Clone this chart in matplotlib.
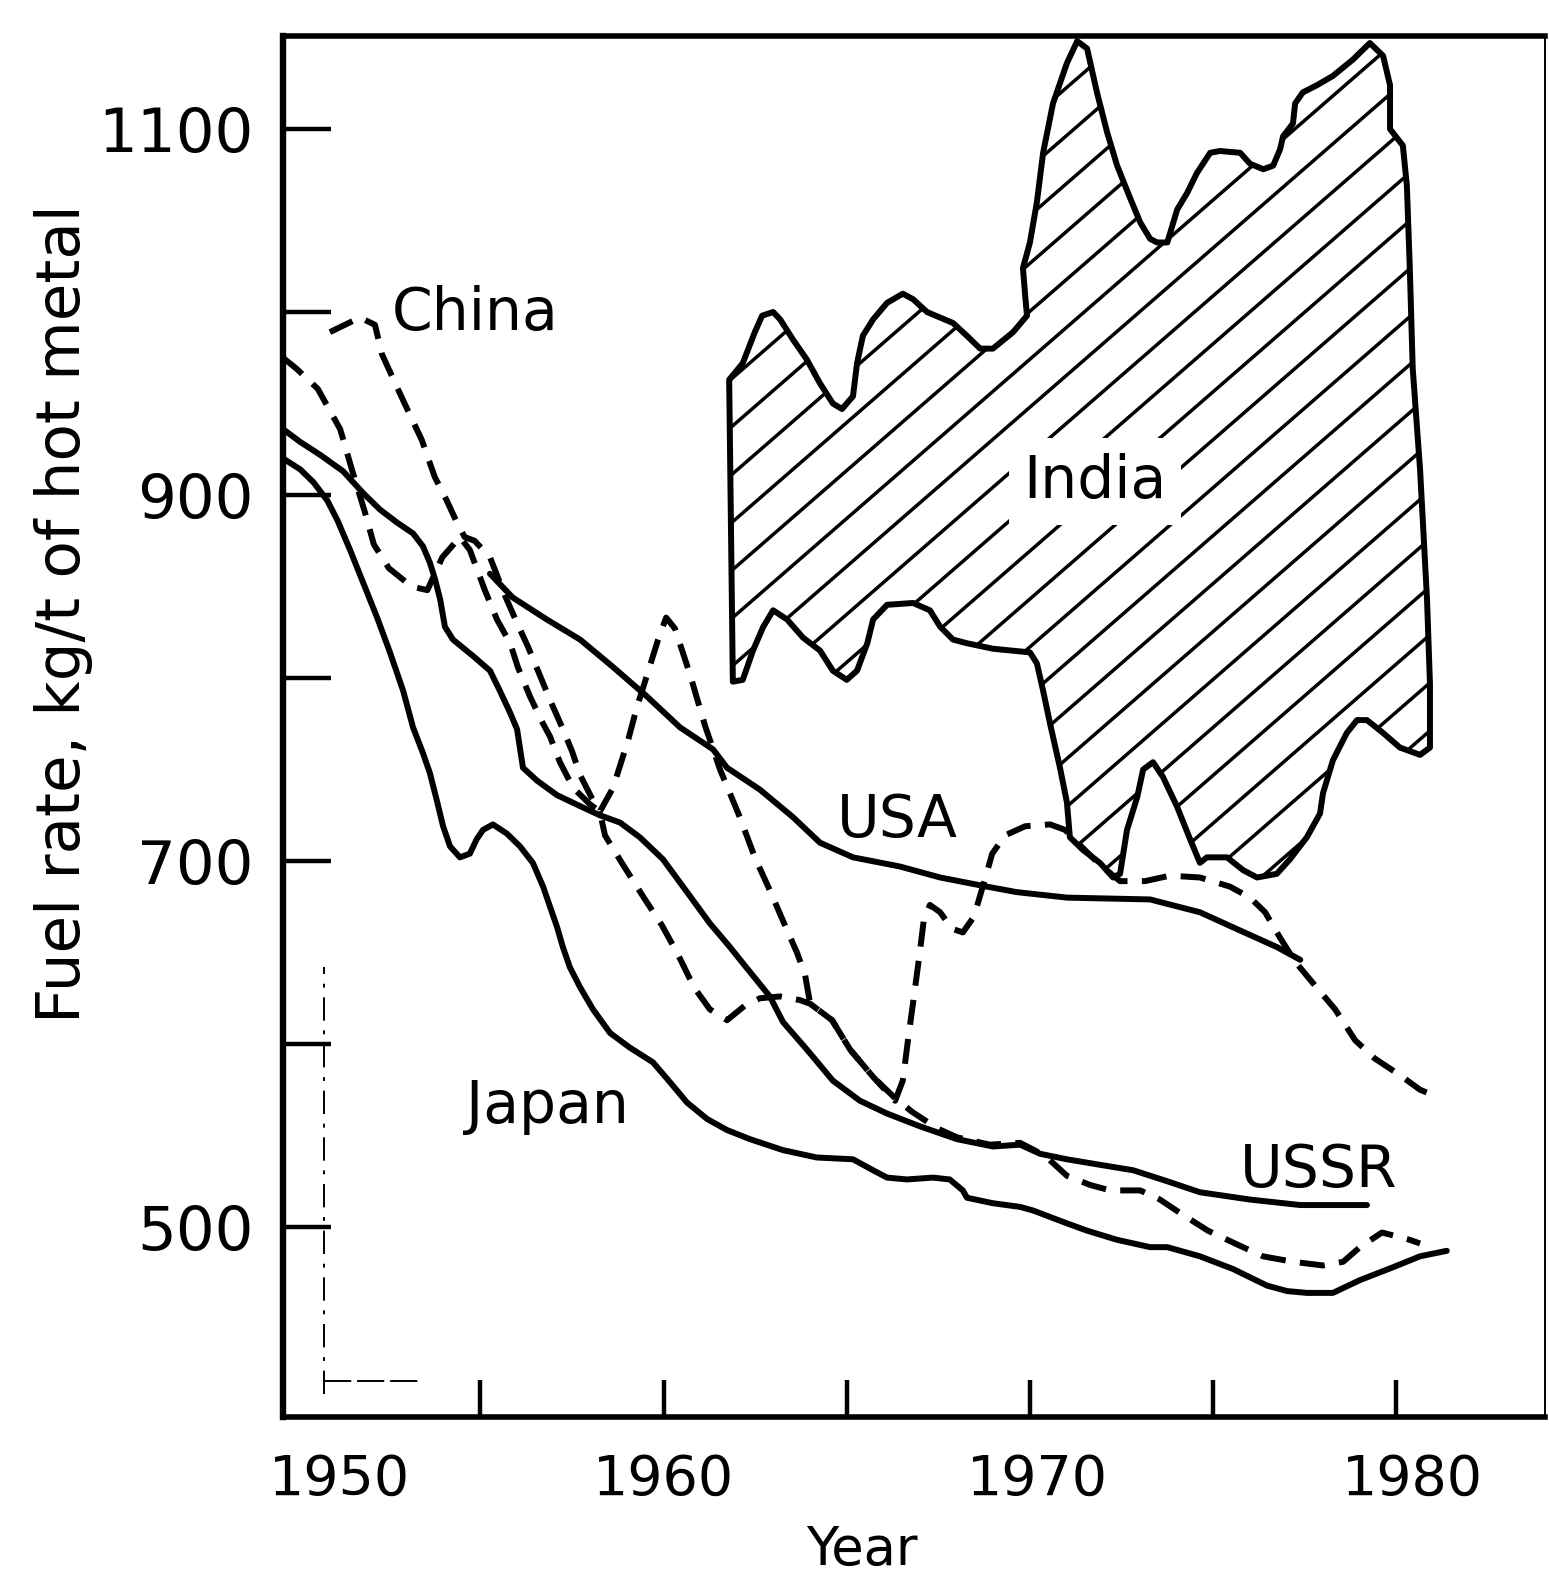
import numpy as np
import matplotlib.pyplot as plt
from matplotlib.patches import Polygon
from matplotlib.transforms import ScaledTranslation

# values (year, kg/t of hot metal)
japan_year = [1949.61, 1950.08, 1950.44, 1950.82, 1951.10, 1951.44, 1951.80, 1952.18, 1952.53, 1952.89,
              1953.16, 1953.43, 1953.62, 1953.81, 1953.98, 1954.17, 1954.44, 1954.71, 1954.90, 1955.07,
              1955.34, 1955.72, 1956.08, 1956.43, 1956.71, 1956.90, 1957.09, 1957.25, 1957.44, 1957.72,
              1958.07, 1958.54, 1959.08, 1959.71, 1960.18, 1960.64, 1961.19, 1961.73, 1962.36, 1963.26,
              1964.18, 1965.17, 1965.72, 1966.10, 1966.64, 1967.35, 1967.81, 1968.17, 1968.28, 1968.99,
              1969.73, 1970.09, 1971.01, 1971.56, 1972.38, 1973.28, 1973.75, 1974.64, 1975.55, 1976.47,
              1977.02, 1977.56, 1978.27, 1979.01, 1979.91, 1980.65, 1981.38]
japan_rate = [920, 914, 907, 897, 886, 870, 852, 833, 814, 793,
              773, 759, 748, 733, 719, 708, 702, 704, 712, 717,
              720, 715, 708, 699, 686, 675, 664, 653, 642, 631,
              619, 606, 598, 590, 579, 568, 559, 553, 548, 542,
              538, 537, 531, 527, 526, 527, 526, 520, 516, 513,
              511, 509, 502, 498, 493, 489, 489, 484, 477, 468,
              465, 464, 464, 471, 478, 484, 487]

ussr_year = [1949.61, 1950.08, 1950.62, 1951.25, 1951.80, 1952.26, 1952.72, 1953.16, 1953.43, 1953.62,
             1953.76, 1953.90, 1954.03, 1954.25, 1954.80, 1955.26, 1955.53, 1955.81, 1956.00, 1956.16,
             1956.54, 1957.09, 1957.72, 1958.26, 1958.81, 1959.35, 1959.98, 1960.64, 1961.26, 1961.81,
             1962.17, 1962.90, 1963.26, 1963.91, 1964.62, 1965.36, 1966.10, 1967.00, 1968.01, 1968.99,
             1969.73, 1970.28, 1971.01, 1971.91, 1972.82, 1973.75, 1974.64, 1976.01, 1977.38, 1979.20]
ussr_rate = [936, 929, 922, 913, 901, 892, 885, 879, 872, 863,
             854, 843, 828, 821, 812, 804, 793, 781, 772, 751,
             744, 736, 730, 725, 721, 713, 701, 683, 666, 653,
             644, 626, 612, 597, 580, 569, 562, 555, 548, 544,
             545, 540, 537, 534, 531, 525, 519, 515, 512, 512]

usa_year = [1955.26, 1955.88, 1956.81, 1957.72, 1958.62, 1959.54, 1960.45, 1961.35, 1961.73, 1962.63,
            1963.53, 1964.27, 1965.17, 1966.45, 1967.55, 1968.83, 1969.64, 1971.01, 1973.28, 1974.64,
            1975.74, 1976.74, 1977.38]
usa_rate = [857, 844, 832, 821, 806, 790, 773, 761, 751, 739,
            724, 710, 702, 697, 691, 686, 683, 680, 679, 672,
            662, 653, 646]

china_year = [1950.89, 1951.30, 1951.71, 1952.12, 1952.31, 1952.72, 1953.07, 1953.40, 1953.75, 1954.08,
              1954.38, 1954.57, 1954.84, 1955.26, 1955.67, 1956.00, 1956.30, 1956.57, 1956.90, 1957.23,
              1957.50, 1957.72, 1958.05, 1958.26, 1958.62, 1959.03, 1959.27, 1959.57, 1959.85, 1960.07,
              1960.31, 1960.72, 1961.13, 1961.54, 1962.08, 1962.49, 1962.90, 1963.31, 1963.64, 1963.86,
              1964.00, 1964.60, 1965.09, 1965.72, 1966.32, 1966.53, 1966.67, 1966.84, 1967.00, 1967.11,
              1967.27, 1967.55, 1967.87, 1968.17, 1968.45, 1968.58, 1968.77, 1968.97, 1969.32, 1969.87,
              1970.55, 1970.96, 1971.50, 1971.91, 1972.46, 1973.14, 1973.82, 1974.64, 1975.46, 1976.01,
              1976.42, 1976.83, 1977.24, 1977.78, 1978.33, 1978.88, 1979.42, 1980.10, 1980.65, 1981.14]
china_rate = [989, 993, 997, 993, 977, 959, 944, 930, 910, 897,
              884, 877, 875, 866, 845, 830, 817, 804, 788, 773,
              760, 747, 734, 727, 740, 766, 784, 803, 821, 833,
              827, 802, 774, 750, 724, 702, 684, 665, 650, 638,
              622, 613, 597, 582, 569, 580, 602, 627, 651, 669,
              676, 672, 663, 661, 669, 677, 690, 704, 714, 719,
              720, 717, 706, 698, 689, 689, 692, 691, 686, 680,
              672, 658, 645, 632, 619, 602, 592, 583, 575, 571]

# second, unlabelled dashed curve
other_year = [1949.61, 1949.98, 1950.56, 1951.17, 1951.49, 1951.84, 1952.09, 1952.50, 1953.12, 1953.55,
              1953.96, 1954.44, 1954.71, 1955.12, 1955.45, 1955.81, 1956.02, 1956.35, 1956.71, 1956.90,
              1957.17, 1957.53, 1957.99, 1958.26, 1958.40, 1958.89, 1959.46, 1959.95, 1960.39, 1960.83,
              1961.26, 1961.73, 1962.22, 1962.63, 1963.18, 1963.72, 1964.00, 1964.60, 1965.09, 1965.72,
              1966.29, 1966.78, 1967.46, 1968.01, 1968.91, 1969.73, 1970.41, 1971.01, 1971.64, 1972.19,
              1973.01, 1973.55, 1974.15, 1974.86, 1975.60, 1976.36, 1977.18, 1978.00, 1978.55, 1979.01,
              1979.61, 1980.37, 1980.65]
other_rate = [975, 969, 958, 936, 914, 891, 873, 860, 850, 848,
              866, 877, 870, 848, 832, 819, 806, 790, 775, 768,
              754, 740, 731, 727, 714, 698, 680, 665, 649, 631,
              619, 613, 621, 625, 626, 624, 622, 613, 597, 582,
              571, 563, 554, 549, 545, 546, 539, 528, 523, 520,
              520, 515, 507, 498, 491, 484, 481, 479, 481, 489,
              497, 493, 491]

# India band: upper edge (incl. right side), lower edge, both left to right
india_upper_year = [1961.79, 1962.16, 1962.49, 1962.69, 1962.99, 1963.18, 1963.53, 1963.91, 1964.27, 1964.62,
                    1964.87, 1965.17, 1965.28, 1965.44, 1965.72, 1966.10, 1966.53, 1966.81, 1967.19, 1967.90,
                    1968.28, 1968.64, 1968.99, 1969.54, 1969.92, 1969.87, 1969.81, 1970.00, 1970.19, 1970.36,
                    1970.63, 1971.01, 1971.29, 1971.56, 1971.83, 1972.11, 1972.38, 1972.74, 1973.01, 1973.28,
                    1973.47, 1973.75, 1974.02, 1974.29, 1974.56, 1974.92, 1975.19, 1975.74, 1976.01, 1976.37,
                    1976.64, 1976.83, 1976.91, 1977.18, 1977.24, 1977.45, 1977.84, 1978.27, 1978.82, 1979.28,
                    1979.64, 1979.83, 1979.83, 1980.18, 1980.29, 1980.37, 1980.45, 1980.65, 1980.84, 1980.92,
                    1980.92]
india_upper_rate = [963, 972, 989, 998, 1000, 996, 985, 974, 961, 950,
                    947, 954, 972, 987, 996, 1005, 1010, 1007, 1000, 994,
                    987, 980, 980, 989, 998, 1009, 1024, 1038, 1060, 1087,
                    1114, 1136, 1148, 1144, 1120, 1098, 1080, 1062, 1049, 1040,
                    1038, 1038, 1056, 1065, 1076, 1087, 1088, 1087, 1081, 1078,
                    1080, 1089, 1096, 1103, 1114, 1120, 1124, 1129, 1138, 1147,
                    1140, 1124, 1100, 1091, 1069, 1024, 969, 914, 843, 797,
                    762]
india_lower_year = [1961.89, 1962.16, 1962.44, 1962.72, 1962.99, 1963.37, 1963.81, 1964.27, 1964.62, 1965.00,
                    1965.28, 1965.56, 1965.72, 1966.10, 1966.81, 1967.27, 1967.55, 1967.90, 1968.28, 1968.99,
                    1970.00, 1970.19, 1970.36, 1970.55, 1970.82, 1971.01, 1971.09, 1971.45, 1971.91, 1972.27,
                    1972.46, 1972.65, 1972.93, 1973.09, 1973.36, 1973.63, 1974.01, 1974.37, 1974.64, 1974.83,
                    1975.38, 1975.82, 1976.20, 1976.74, 1977.10, 1977.56, 1977.92, 1978.00, 1978.27, 1978.65,
                    1978.93, 1979.20, 1979.64, 1980.10, 1980.65]
india_lower_rate = [798, 799, 815, 828, 837, 832, 822, 815, 804, 799,
                    804, 819, 832, 840, 841, 837, 828, 821, 819, 816,
                    814, 808, 793, 775, 751, 732, 713, 706, 699, 691,
                    693, 717, 735, 750, 754, 746, 730, 712, 699, 702,
                    702, 695, 691, 693, 701, 713, 726, 737, 755, 770,
                    777, 777, 770, 762, 758]

# stray marks of the scan near the lower left corner
scan_vert_year = [1950.73, 1950.73]
scan_vert_rate = [409, 642]
scan_horiz_year = [1950.73, 1953.35]
scan_horiz_rate = [416, 416]

plt.rcParams['font.family'] = ['DejaVu Sans']

fig = plt.figure(figsize=(15.49, 15.88), dpi=100)
ax = fig.add_axes([0.1827, 0.1077, 0.8147, 0.8696])
ax.set_xlim(1949.61, 1984.06)
ax.set_ylim(396.2, 1150.8)

solid = dict(color='black', lw=4.3, solid_joinstyle='round', solid_capstyle='round', zorder=3)
dashed = dict(color='black', lw=4.3, ls=(0, (4.2, 2.4)), dash_capstyle='butt', zorder=3)

# India hatched band
poly_x = india_upper_year + india_lower_year[::-1]
poly_y = india_upper_rate + india_lower_rate[::-1]
india = Polygon(np.column_stack([poly_x, poly_y]), closed=True, facecolor='none',
                edgecolor='black', lw=4.3, joinstyle='round', zorder=4)
ax.add_patch(india)

hatch_slope = 17.4   # rate units per year, ~41 deg on screen
hatch_x = np.array([1960.0, 1983.0])
for c in np.arange(250, 1060, 26.2):
    ln, = ax.plot(hatch_x, c + hatch_slope * (hatch_x - 1960.0), color='black', lw=2.5, zorder=2)
    ln.set_clip_path(india)

ax.plot(japan_year, japan_rate, **solid)
ax.plot(ussr_year, ussr_rate, **solid)
ax.plot(usa_year, usa_rate, **solid)
ax.plot(china_year, china_rate, **dashed)
ax.plot(other_year, other_rate, **dashed)

ax.plot(scan_vert_year, scan_vert_rate, color='black', lw=1.4, ls=(0, (12, 5, 2, 5)))
ax.plot(scan_horiz_year, scan_horiz_rate, color='black', lw=1.4, ls=(0, (14, 3)))

txt = dict(fontsize=42, color='black', va='baseline')
ax.text(1952.59, 990.2, 'China', ha='left', **txt)
ax.text(1971.78, 898.4, 'India', ha='center', zorder=5,
        bbox=dict(boxstyle='square,pad=0.25', facecolor='white', edgecolor='none'), **txt)
ax.text(1966.37, 713.1, 'USA', ha='center', **txt)
ax.text(1977.87, 521.9, 'USSR', ha='center', **txt)
ax.text(1956.84, 556.8, 'Japan', ha='center', **txt)

ax.set_xticks([1950, 1955, 1960, 1965, 1970, 1975, 1980])
ax.set_xticklabels(['1950', '', '1960', '', '1970', '', '1980'])
ax.set_yticks([500, 600, 700, 800, 900, 1000, 1100])
ax.set_yticklabels(['500', '', '700', '', '900', '', '1100'])
ax.tick_params(axis='x', direction='in', length=26.6, width=3.2, pad=26, labelsize=40, top=False)
ax.tick_params(axis='y', direction='in', length=34.5, width=3.2, pad=21, labelsize=44, right=False)
ax.xaxis.get_major_ticks()[0].tick1line.set_visible(False)

label_shift_px = [42, 0, 0, 0, 8, 0, 16]
for lab, dx in zip(ax.get_xticklabels(), label_shift_px):
    lab.set_transform(lab.get_transform() + ScaledTranslation(dx / 100, 0, fig.dpi_scale_trans))

ax.spines['left'].set_linewidth(4.6)
ax.spines['bottom'].set_linewidth(4.0)
ax.spines['top'].set_linewidth(4.0)
ax.spines['right'].set_linewidth(1.4)

ax.set_xlabel('Year', fontsize=38)
ax.xaxis.set_label_coords(0.459, -0.0775)
ax.set_ylabel('Fuel rate, kg/t of hot metal', fontsize=44)
ax.yaxis.set_label_coords(-0.1506, 0.582)

fig.savefig('out.png', dpi=100)
